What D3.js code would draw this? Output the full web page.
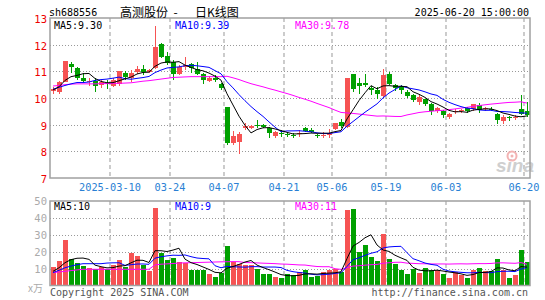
<!DOCTYPE html>
<html><head><meta charset="utf-8">
<script src="https://cdn.jsdelivr.net/npm/d3@7/dist/d3.min.js"></script>
<style>body{margin:0;background:#fff}svg{display:block}</style>
</head><body>
<svg id="c" width="545" height="300"></svg>
<script>
const dates = ["2025-02-24","2025-02-25","2025-02-26","2025-02-27","2025-02-28",
"2025-03-03","2025-03-04","2025-03-05","2025-03-06","2025-03-07",
"2025-03-10","2025-03-11","2025-03-12","2025-03-13","2025-03-14",
"2025-03-17","2025-03-18","2025-03-19","2025-03-20","2025-03-21",
"2025-03-24","2025-03-25","2025-03-26","2025-03-27","2025-03-28","2025-03-31",
"2025-04-01","2025-04-02","2025-04-03",
"2025-04-07","2025-04-08","2025-04-09","2025-04-10","2025-04-11",
"2025-04-14","2025-04-15","2025-04-16","2025-04-17","2025-04-18",
"2025-04-21","2025-04-22","2025-04-23","2025-04-24","2025-04-25",
"2025-04-28","2025-04-29","2025-04-30",
"2025-05-06","2025-05-07","2025-05-08","2025-05-09",
"2025-05-12","2025-05-13","2025-05-14","2025-05-15","2025-05-16",
"2025-05-19","2025-05-20","2025-05-21","2025-05-22","2025-05-23",
"2025-05-26","2025-05-27","2025-05-28","2025-05-29","2025-05-30",
"2025-06-03","2025-06-04","2025-06-05","2025-06-06",
"2025-06-09","2025-06-10","2025-06-11","2025-06-12","2025-06-13",
"2025-06-16","2025-06-17","2025-06-18","2025-06-19","2025-06-20"];

const openP  = [10.27,10.24,10.61,11.26,11.11,10.74,10.60,10.65,10.49,10.57,
10.45,10.51,10.92,10.74,10.96,11.07,10.97,11.14,12.02,11.59,
11.36,10.90,11.17,11.26,11.09,10.89,10.64,10.76,10.51,9.65,
8.30,8.36,8.86,8.87,9.00,8.99,8.89,8.58,8.70,8.65,
8.62,8.67,8.86,8.80,8.60,8.60,8.61,8.83,9.11,8.90,
10.89,10.55,10.55,10.39,10.30,10.09,10.89,10.48,10.41,10.23,
10.13,9.85,9.95,9.79,9.50,9.50,9.29,9.48,9.52,9.63,
9.58,9.75,9.58,9.60,9.41,9.14,9.30,9.27,9.57,9.52];
const closeP = [10.33,10.59,11.39,11.16,10.76,10.65,10.64,10.45,10.61,10.51,
10.67,11.00,10.80,10.94,11.09,10.96,11.05,11.90,11.55,11.30,
10.90,11.17,11.25,11.11,10.89,10.68,10.74,10.68,10.36,8.33,
8.58,8.64,8.96,8.94,8.97,8.90,8.68,8.71,8.64,8.63,
8.60,8.70,8.76,8.74,8.58,8.62,8.70,9.05,8.96,10.74,
10.33,10.45,10.50,10.30,10.15,10.86,10.51,10.38,10.29,10.08,
9.91,10.04,9.79,9.50,9.63,9.35,9.41,9.51,9.55,9.50,
9.76,9.54,9.61,9.54,9.19,9.30,9.28,9.30,9.41,9.35];
const highP  = [10.42,10.64,11.40,11.36,11.15,10.95,10.74,10.74,10.67,10.67,
10.74,11.02,11.00,11.05,11.21,11.24,11.10,12.70,12.05,11.74,
11.43,11.24,11.52,11.30,11.36,10.93,10.84,10.86,10.55,9.65,
8.78,8.74,9.05,8.98,9.18,9.01,8.93,8.76,8.80,8.74,
8.68,8.80,8.93,8.86,8.64,8.74,8.84,9.08,9.21,10.75,
10.90,10.74,10.89,10.45,10.43,11.09,10.99,10.54,10.48,10.29,
10.16,10.10,9.98,9.83,9.66,9.54,9.45,9.60,9.60,9.66,
9.79,9.81,9.66,9.65,9.45,9.35,9.33,9.35,10.10,9.86];
const lowP   = [10.15,10.15,10.60,10.95,10.67,10.55,10.46,10.24,10.39,10.34,
10.42,10.45,10.67,10.61,10.89,10.86,10.92,11.10,11.50,11.24,
10.68,10.86,11.05,10.95,10.86,10.51,10.59,10.59,10.30,8.24,
8.24,7.90,8.80,8.82,8.87,8.86,8.49,8.51,8.53,8.53,
8.51,8.55,8.71,8.68,8.51,8.49,8.51,8.80,8.86,8.88,
10.21,10.15,10.40,10.11,9.96,10.03,10.47,10.26,10.16,10.00,
9.85,9.75,9.70,9.38,9.45,9.25,9.23,9.41,9.45,9.45,
9.50,9.45,9.50,9.50,9.01,9.03,9.14,9.16,9.35,9.29];

const volume = [11.0,14.3,26.7,15.5,13.1,11.6,10.4,9.6,11.0,9.6,
12.3,14.9,11.0,19.3,17.3,12.0,8.4,45.9,19.3,14.9,
16.3,13.9,13.5,9.0,9.4,9.0,6.6,5.0,7.4,23.2,
13.9,12.9,12.0,12.0,9.6,6.6,6.6,5.0,4.5,6.6,
6.0,8.0,9.0,5.0,5.6,8.0,9.0,10.0,8.0,44.5,
45.1,19.8,23.8,16.9,14.3,30.3,15.5,12.5,9.0,7.0,
9.6,7.4,10.4,9.0,9.0,7.0,4.5,8.0,6.0,4.5,
9.4,10.4,8.4,8.4,15.5,9.0,4.7,6.0,20.8,13.9];

// moving-average values of the first days (their windows start before the chart)
const ma5Lead  = [10.30,10.42,10.66,10.80];
const ma10Lead = [10.33,10.40,10.47,10.53,10.58,10.58,10.60,10.66,10.69];
const ma30Lead = [10.45,10.47,10.50,10.52,10.53,10.53,10.53,10.53,10.54,10.54,
10.55,10.55,10.56,10.57,10.60,10.63,10.65,10.68,10.71,10.74,
10.77,10.78,10.79,10.80,10.80,10.80,10.80,10.80,10.80];
const vma5Lead  = [8.4,10.5,13.5,15.3];
const vma10Lead = [7.6,9.0,10.5,11.5,12.3,12.9,12.9,12.9,12.9];
const vma30Lead = [7.6,8.0,8.4,8.8,9.2,9.6,9.6,9.6,9.6,9.6,
9.6,9.6,9.6,9.6,9.6,9.6,9.6,12.2,12.6,12.8,
13.0,13.3,13.4,13.5,13.6,13.7,13.8,13.9,14.0];

const priceTicks = [7,8,9,10,11,12,13];
const volTicks = [10,20,30,40,50];
const dateTicks = ["2025-03-10","2025-03-24","2025-04-07","2025-04-21","2025-05-06","2025-05-19","2025-06-03","2025-06-20"];
const dateTickLabels = ["2025-03-10","03-24","04-07","04-21","05-06","05-19","06-03","06-20"];
const priceLegend = ["MA5:9.30","MA10:9.39","MA30:9.78"];
const volLegend = ["MA5:10","MA10:9","MA30:11"];
const maColors = ["#000000","#0000ff","#ff00ff"];
const code = "sh688556";
const titleName = "高测股份";
const titleKind = "日K线图";
const stamp = "2025-06-20 15:00:00";

function movAvg(arr, n, lead){
  return arr.map((v,i)=> i < n-1 ? lead[i] : d3.mean(arr.slice(i-n+1, i+1)));
}

const L=50, R=530, pTop=18, pBot=178, vTop=201, vBot=285.5;
const UP="#f65353", DOWN="#00a000";
const FONT="'DejaVu Sans Mono', 'Liberation Mono', monospace";

const svg = d3.select("#c");
const idx = d3.range(dates.length);
const x = d3.scaleBand().domain(idx).range([L,R]).padding(0);
const bw = x.bandwidth();
const yP = d3.scaleLinear().domain([7,13]).range([pBot,pTop]);
const yV = d3.scaleLinear().domain([0,50]).range([vBot,vTop]);
const isUp = i => closeP[i] >= openP[i];
const gridX = dateTicks.map(d => x(dates.indexOf(d)));

// grid
const g = svg.append("g");
[[pTop,pBot],[vTop,vBot]].forEach(([t,b])=>{
  g.selectAll(null).data(gridX).enter().append("line")
   .attr("x1",d=>d).attr("x2",d=>d).attr("y1",t).attr("y2",b)
   .attr("stroke","#aaaaaa").attr("stroke-width",1.2).attr("stroke-dasharray","4,3");
});
g.selectAll(null).data(priceTicks.filter(t=>t>7&&t<13)).enter().append("line")
 .attr("x1",L).attr("x2",R).attr("y1",d=>Math.round(yP(d))+0.5).attr("y2",d=>Math.round(yP(d))+0.5)
 .attr("stroke","#999").attr("stroke-dasharray","1,2");
g.selectAll(null).data(volTicks.filter(t=>t<50)).enter().append("line")
 .attr("x1",L).attr("x2",R).attr("y1",d=>Math.round(yV(d))+0.5).attr("y2",d=>Math.round(yV(d))+0.5)
 .attr("stroke","#999").attr("stroke-dasharray","1,2");

// watermark
const wm = svg.append("g");
wm.append("text").attr("x",496).attr("y",172).text("sina")
  .attr("font-family","'Liberation Sans', Arial, sans-serif").attr("font-size",19)
  .attr("font-weight","bold").attr("font-style","italic").attr("fill","#cfcfcf");
wm.append("circle").attr("cx",512).attr("cy",156).attr("r",4.5)
  .attr("fill","none").attr("stroke","#f3b3b3").attr("stroke-width",2);
wm.append("circle").attr("cx",512).attr("cy",156).attr("r",1.5).attr("fill","#f3b3b3");

// candles
const cg = svg.append("g").attr("shape-rendering","crispEdges");
cg.selectAll(".wick").data(idx).enter().append("line")
  .attr("x1",i=>x(i)+bw/2).attr("x2",i=>x(i)+bw/2)
  .attr("y1",i=>yP(highP[i])).attr("y2",i=>yP(lowP[i]))
  .attr("stroke",i=>isUp(i)?UP:DOWN).attr("stroke-width",1);
cg.selectAll(".body").data(idx).enter().append("rect")
  .attr("x",i=>x(i)+0.5).attr("width",bw-1)
  .attr("y",i=>yP(Math.max(openP[i],closeP[i])))
  .attr("height",i=>Math.max(1, yP(Math.min(openP[i],closeP[i]))-yP(Math.max(openP[i],closeP[i]))))
  .attr("fill",i=>isUp(i)?UP:DOWN);

// volume bars
cg.selectAll(".vol").data(idx).enter().append("rect")
  .attr("x",i=>x(i)+0.5).attr("width",bw-1)
  .attr("y",i=>yV(volume[i])).attr("height",i=>yV(0)-yV(volume[i]))
  .attr("fill",i=>isUp(i)?UP:DOWN);

// moving averages
const pMA = [movAvg(closeP,5,ma5Lead), movAvg(closeP,10,ma10Lead), movAvg(closeP,30,ma30Lead)];
const vMA = [movAvg(volume,5,vma5Lead), movAvg(volume,10,vma10Lead), movAvg(volume,30,vma30Lead)];
const lineP = d3.line().x((d,i)=>x(i)+bw/2).y(d=>yP(d));
const lineV = d3.line().x((d,i)=>x(i)+bw/2).y(d=>yV(d));
[2,1,0].forEach(k=>{
  svg.append("path").attr("d",lineP(pMA[k])).attr("fill","none").attr("stroke",maColors[k]).attr("stroke-width",1);
  svg.append("path").attr("d",lineV(vMA[k])).attr("fill","none").attr("stroke",maColors[k]).attr("stroke-width",1);
});

// frames
[[pTop,pBot],[vTop,vBot]].forEach(([t,b])=>{
  svg.append("rect").attr("x",L).attr("y",t).attr("width",R-L).attr("height",b-t)
    .attr("fill","none").attr("stroke","#a0a0a0").attr("stroke-width",1.5);
});

// axis labels
const txt = (xx,yy,s,fill,anchor,size)=> svg.append("text").attr("x",xx).attr("y",yy).text(s)
   .attr("fill",fill).attr("text-anchor",anchor||"start").attr("dominant-baseline","central")
   .attr("font-family",FONT).attr("font-size",size||10);
priceTicks.forEach(t=> txt(47, yP(t)+1, String(t), "#ee0000","end",10.5));
volTicks.forEach(t=> txt(47, yV(t), String(t), "#aaaaaa","end",10.5));
svg.append("text").attr("x",28).attr("y",287).text("x万").attr("fill","#aaaaaa")
  .attr("dominant-baseline","central").attr("font-family","'Noto Sans CJK SC', sans-serif").attr("font-size",10);
dateTicks.forEach((d,k)=> txt(gridX[k], 186.5, dateTickLabels[k], "#2a7fd4","middle",10.3));

// legends
const legX = [54,175,295];
priceLegend.forEach((s,k)=> txt(legX[k], 25, s, maColors[k]));
volLegend.forEach((s,k)=> txt(legX[k], 206.5, s, maColors[k]));

// header & footer
txt(49, 12.5, code, "#000");
svg.append("text").attr("x",120).attr("y",11).text(titleName).attr("dominant-baseline","central")
  .attr("font-family","'Noto Sans CJK SC', sans-serif").attr("font-size",12).attr("fill","#000");
svg.append("text").attr("x",175.5).attr("y",11).text("-").attr("text-anchor","middle").attr("dominant-baseline","central")
  .attr("font-family","'Noto Sans CJK SC', sans-serif").attr("font-size",12).attr("fill","#000");
svg.append("text").attr("x",195).attr("y",11).text(titleKind).attr("dominant-baseline","central")
  .attr("font-family","'Noto Sans CJK SC', sans-serif").attr("font-size",12).attr("fill","#000");
txt(529, 12.5, stamp, "#000","end");
txt(50, 292.5, "Copyright 2025 SINA.COM", "#555");
txt(528, 292.5, "http://finance.sina.com.cn", "#555","end");
</script>
</body></html>
